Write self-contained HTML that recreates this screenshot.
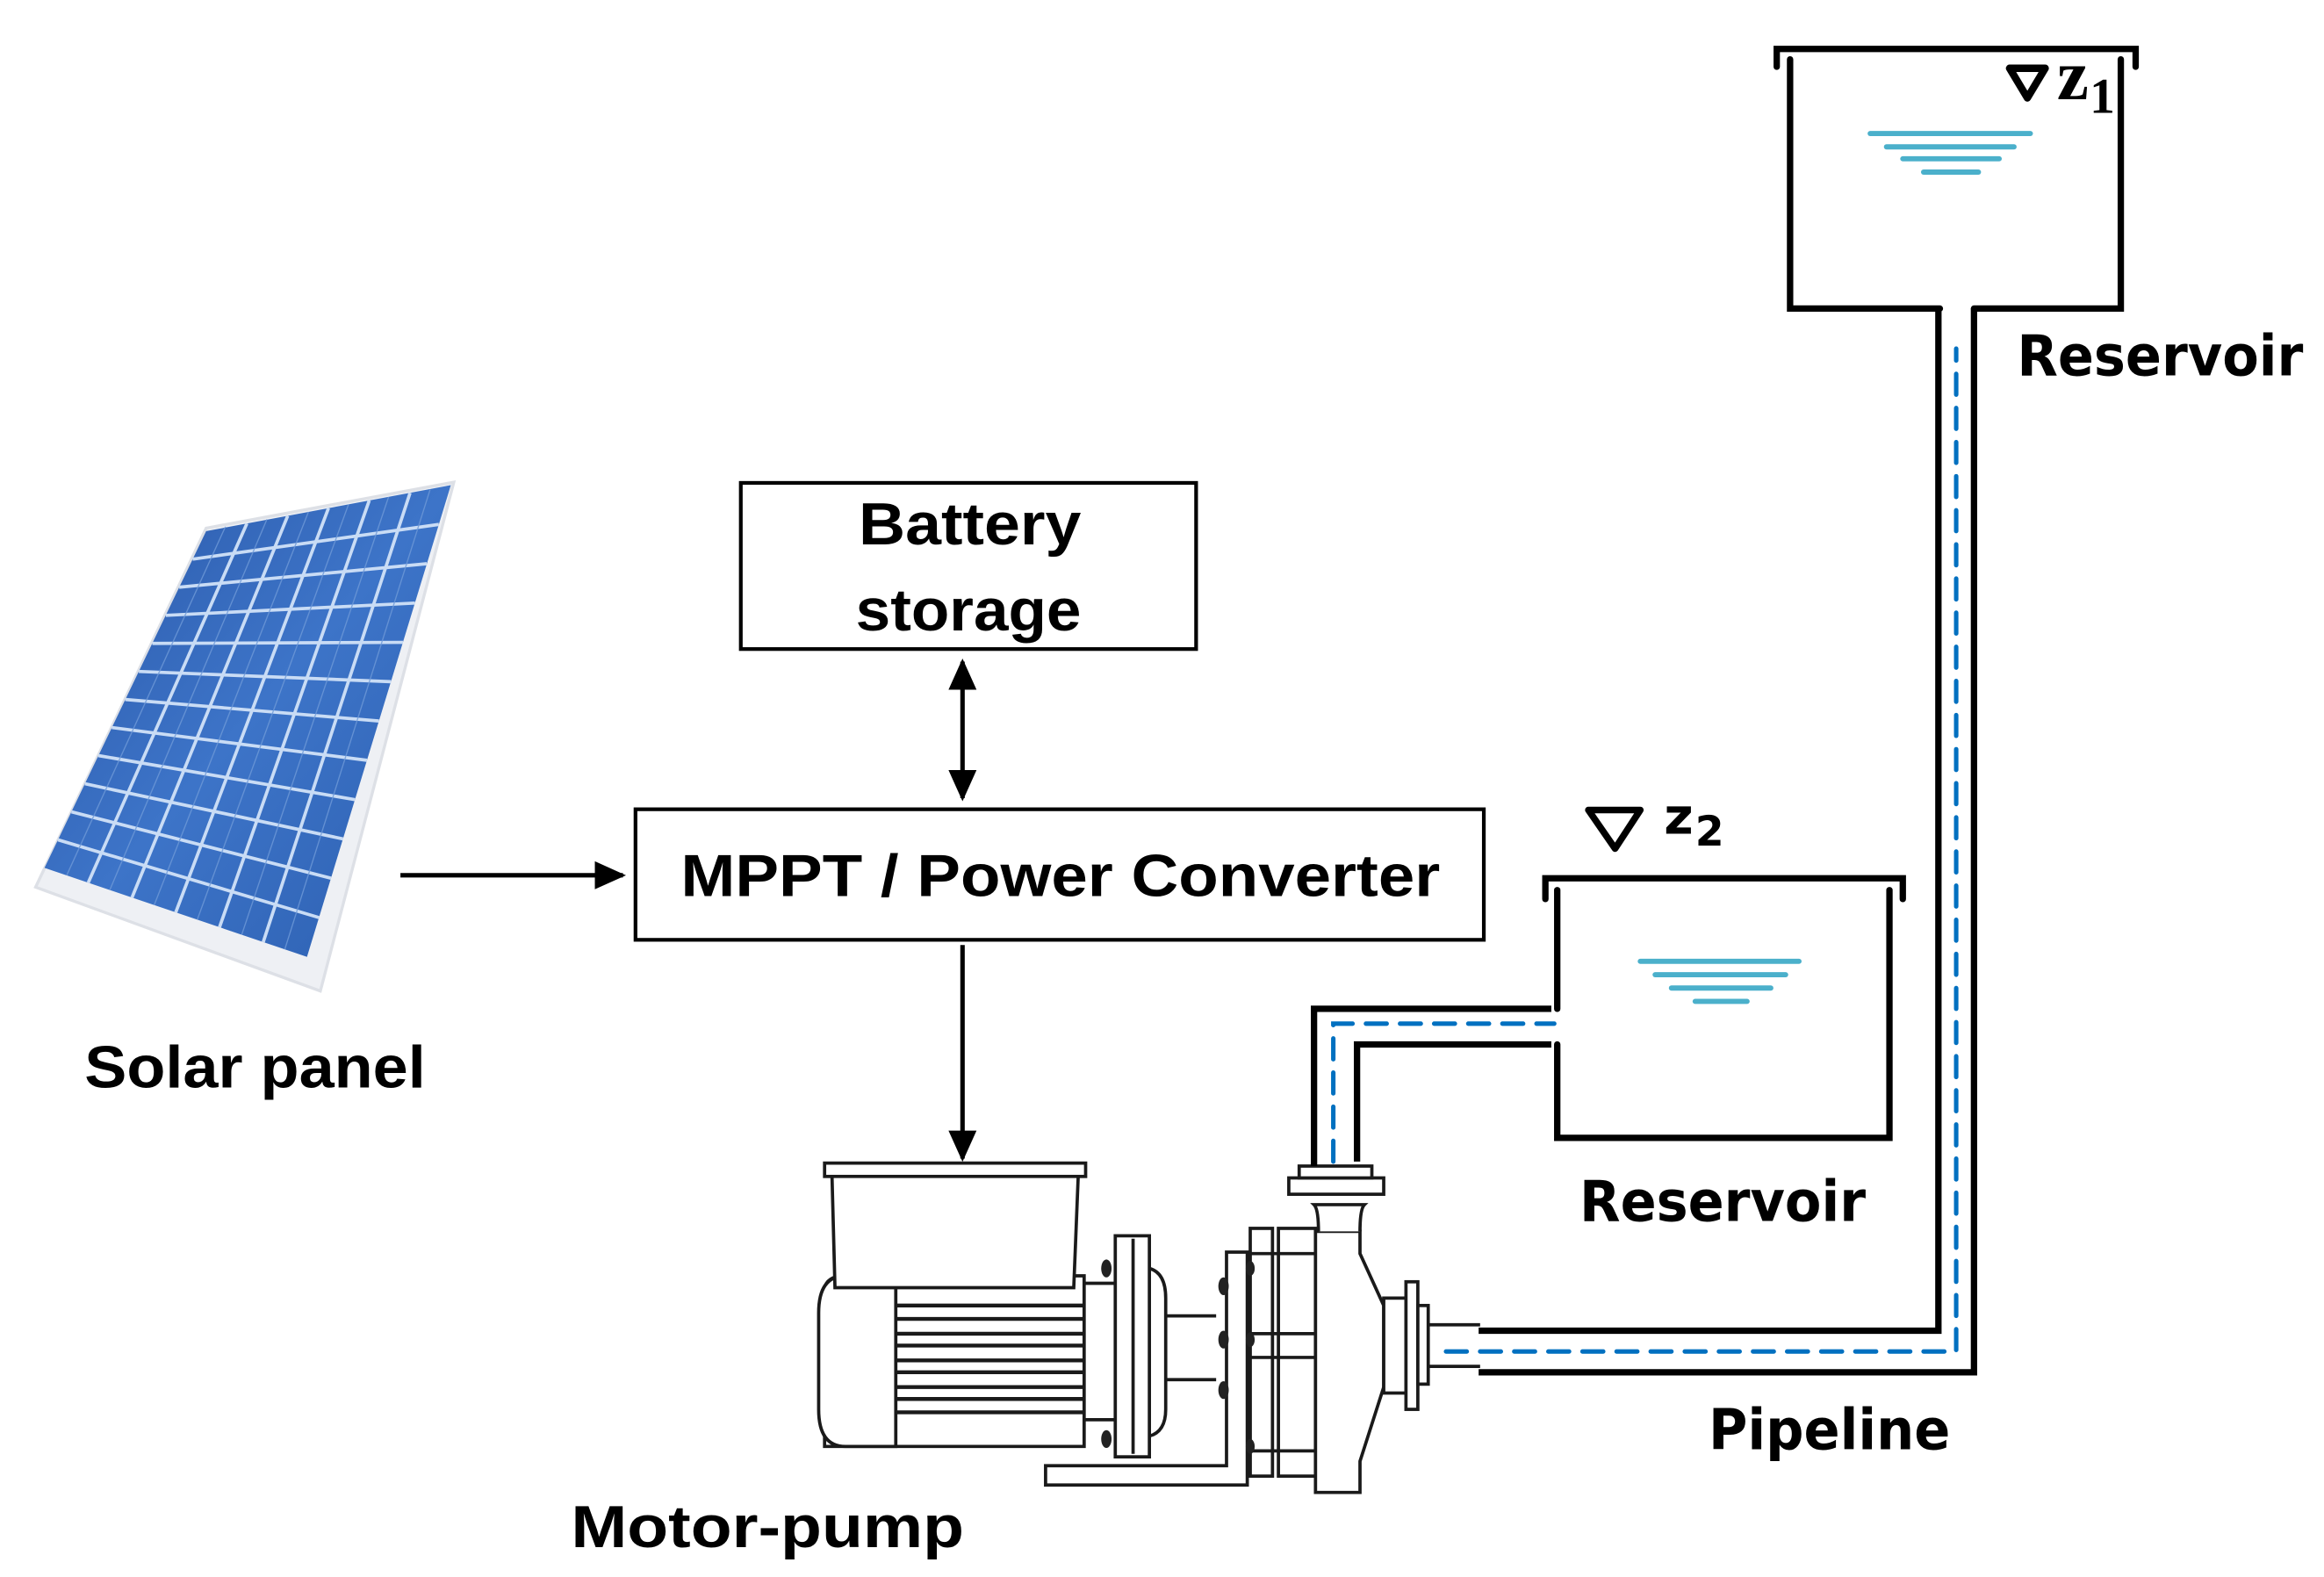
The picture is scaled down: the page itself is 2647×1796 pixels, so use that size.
<!DOCTYPE html>
<html><head><meta charset="utf-8"><style>
html,body{margin:0;padding:0;background:#fff;}
svg{display:block;}
</style></head><body>
<svg width="2647" height="1796" viewBox="0 0 1567 1063" preserveAspectRatio="none" xmlns="http://www.w3.org/2000/svg">
<defs>
<linearGradient id="pg" x1="0" y1="0" x2="1" y2="1">
<stop offset="0" stop-color="#2a58a8"/><stop offset="0.5" stop-color="#3d74c8"/><stop offset="1" stop-color="#2c5fb0"/>
</linearGradient>
<marker id="ah" viewBox="0 0 10 10" refX="9" refY="5" markerWidth="7" markerHeight="7" orient="auto-start-reverse">
<path d="M0,0.5 L10,5 L0,9.5 z" fill="#000"/></marker>
</defs>
<rect width="1567" height="1063" fill="#fff"/>

<!-- Solar panel -->
<polygon points="139,356 306,325 216,668 24,598" fill="#eef0f4" stroke="#dde0e6" stroke-width="2"/>
<polygon points="139,358 304,327 207,645 30,585" fill="url(#pg)"/>
<g stroke="#c9dcf5" stroke-width="2.2">
<line x1="166.5" y1="352.8" x2="59.5" y2="595"/>
<line x1="194" y1="347.7" x2="89" y2="605"/>
<line x1="221.5" y1="342.5" x2="118.5" y2="615"/>
<line x1="249" y1="337.3" x2="148" y2="625"/>
<line x1="276.5" y1="332.2" x2="177.5" y2="635"/>
<line x1="129.9" y1="376.9" x2="295.9" y2="353.5"/>
<line x1="120.8" y1="395.8" x2="287.8" y2="380"/>
<line x1="111.8" y1="414.8" x2="279.8" y2="406.5"/>
<line x1="102.7" y1="433.7" x2="271.7" y2="433"/>
<line x1="93.6" y1="452.6" x2="263.6" y2="459.5"/>
<line x1="84.5" y1="471.5" x2="255.5" y2="486"/>
<line x1="75.4" y1="490.4" x2="247.4" y2="512.5"/>
<line x1="66.3" y1="509.3" x2="239.3" y2="539"/>
<line x1="57.3" y1="528.3" x2="231.3" y2="565.5"/>
<line x1="48.2" y1="547.2" x2="223.2" y2="592"/>
<line x1="39.1" y1="566.1" x2="215.1" y2="618.5"/>
</g>
<g stroke="#6f9ad8" stroke-width="0.8" opacity="0.8">
<line x1="152" y1="355" x2="45" y2="590"/><line x1="180" y1="350" x2="74" y2="600"/>
<line x1="208" y1="345" x2="104" y2="610"/><line x1="235" y1="340" x2="133" y2="620"/>
<line x1="262" y1="335" x2="163" y2="630"/><line x1="290" y1="330" x2="192" y2="640"/>
</g>
<text x="57" y="733" font-family="Liberation Sans, sans-serif" font-weight="bold" font-size="40" textLength="230" lengthAdjust="spacingAndGlyphs">Solar panel</text>

<!-- arrows -->
<line x1="270" y1="590" x2="420" y2="590" stroke="#000" stroke-width="3" marker-end="url(#ah)"/>
<line x1="649" y1="446" x2="649" y2="538" stroke="#000" stroke-width="3" marker-start="url(#ah)" marker-end="url(#ah)"/>
<line x1="649" y1="637" x2="649" y2="781" stroke="#000" stroke-width="3" marker-end="url(#ah)"/>

<!-- Battery -->
<rect x="499.5" y="325.5" width="307" height="112" fill="#fff" stroke="#000" stroke-width="2.5"/>
<text x="654" y="367" text-anchor="middle" font-family="Liberation Sans, sans-serif" font-weight="bold" font-size="40" textLength="150" lengthAdjust="spacingAndGlyphs">Battery</text>
<text x="653" y="425" text-anchor="middle" font-family="Liberation Sans, sans-serif" font-weight="bold" font-size="40" textLength="152" lengthAdjust="spacingAndGlyphs">storage</text>

<!-- MPPT -->
<rect x="428.5" y="545.5" width="572" height="88" fill="#fff" stroke="#000" stroke-width="2.5"/>
<text x="715" y="604" text-anchor="middle" font-family="Liberation Sans, sans-serif" font-weight="bold" font-size="40" textLength="512" lengthAdjust="spacingAndGlyphs">MPPT / Power Converter</text>

<!-- Motor pump -->
<g fill="#fff" stroke="#1a1a1a" stroke-width="2.2">
<path d="M556,975 L556,870 Q556,862 566,860 L731,860 L731,975 Z" />
<path d="M570,975 Q552,975 552,950 L552,885 Q552,860 570,860 L604,860 L604,975 Z"/>
<rect x="556" y="784" width="176" height="9"/>
<polygon points="561,793 727,793 724,868 563,868"/>
<g stroke-width="2.6">
<line x1="604" y1="880" x2="731" y2="880"/><line x1="604" y1="889" x2="731" y2="889"/>
<line x1="604" y1="899" x2="731" y2="899"/><line x1="604" y1="907" x2="731" y2="907"/>
<line x1="604" y1="917" x2="731" y2="917"/><line x1="604" y1="925" x2="731" y2="925"/>
<line x1="604" y1="935" x2="731" y2="935"/><line x1="604" y1="943" x2="731" y2="943"/>
<line x1="604" y1="952" x2="731" y2="952"/></g>
<line x1="731" y1="865" x2="752" y2="865"/><line x1="731" y1="957" x2="752" y2="957"/>
<path d="M775,855 Q786,858 786,875 L786,950 Q786,965 775,968"/>
<rect x="752" y="833" width="23" height="149"/>
<line x1="764" y1="835" x2="764" y2="980"/>
<line x1="786" y1="887" x2="820" y2="887"/><line x1="786" y1="930" x2="820" y2="930"/>
<path d="M705,988 L827,988 L827,844 L841,844 L841,1001 L705,1001 Z"/>
<rect x="843" y="828" width="15" height="167"/>
<rect x="862" y="828" width="25" height="167"/>
<line x1="843" y1="845" x2="887" y2="845"/><line x1="843" y1="978" x2="887" y2="978"/>
<line x1="843" y1="899" x2="887" y2="899"/><line x1="843" y1="915" x2="887" y2="915"/>
<path d="M887,830 L887,1006 L917,1006 L917,985 L933,935 L933,880 L917,845 L917,830 Z"/>
<path d="M889,830 Q889,815 886,812 L920,812 Q917,815 917,830" />
<rect x="869" y="794" width="64" height="11"/>
<rect x="876" y="786" width="49" height="8"/>
<rect x="933" y="875" width="15" height="64"/>
<rect x="948" y="864" width="8" height="86"/>
<rect x="956" y="880" width="7" height="53"/>
<line x1="963" y1="893" x2="998" y2="893"/><line x1="963" y1="921" x2="998" y2="921"/>
</g>
<g fill="#222"><ellipse cx="746" cy="855" rx="3.5" ry="6"/><ellipse cx="746" cy="970" rx="3.5" ry="6"/>
<ellipse cx="825" cy="867" rx="3.5" ry="6"/><ellipse cx="825" cy="903" rx="3.5" ry="6"/><ellipse cx="825" cy="937" rx="3.5" ry="6"/>
<ellipse cx="843" cy="855" rx="3" ry="5"/><ellipse cx="843" cy="903" rx="3" ry="5"/><ellipse cx="843" cy="975" rx="3" ry="5"/></g>
<text x="385" y="1043" font-family="Liberation Sans, sans-serif" font-weight="bold" font-size="40" textLength="265" lengthAdjust="spacingAndGlyphs">Motor-pump</text>

<!-- Pipes -->
<g fill="none" stroke="#000" stroke-width="4.3">
<polyline points="886,786 886,680 1046,680"/>
<polyline points="915,783 915,704 1046,704"/>
<polyline points="997,897 1307,897 1307,208"/>
<polyline points="997,925 1331,925 1331,208"/>
</g>
<g fill="none" stroke="#0070c0" stroke-width="3" stroke-dasharray="14,9" stroke-linecap="round">
<polyline points="899,783 899,690 1048,690"/>
<polyline points="975,911 1319,911 1319,235"/>
</g>

<!-- Reservoirs -->
<g fill="none" stroke="#000" stroke-width="4.3" stroke-linecap="round">
<polyline points="1198,45 1198,33 1440,33 1440,45"/>
<polyline points="1308,208 1207,208 1207,40"/>
<polyline points="1331,208 1430,208 1430,40"/>
<polyline points="1042,606 1042,592 1283,592 1283,606"/>
<polyline points="1050,600 1050,680"/>
<polyline points="1050,704 1050,767 1274,767 1274,600"/>
</g>
<g stroke="#4bb0cb" stroke-width="3.5" stroke-linecap="round">
<line x1="1261" y1="90" x2="1369" y2="90"/><line x1="1272" y1="99" x2="1358" y2="99"/>
<line x1="1283" y1="107" x2="1348" y2="107"/><line x1="1297" y1="116" x2="1334" y2="116"/>
<line x1="1106" y1="648" x2="1213" y2="648"/><line x1="1116" y1="657" x2="1204" y2="657"/>
<line x1="1127" y1="666" x2="1194" y2="666"/><line x1="1143" y1="675" x2="1178" y2="675"/>
</g>
<polygon points="1355,46 1379,46 1367,66" fill="none" stroke="#000" stroke-width="5" stroke-linejoin="round"/>
<text x="1387" y="67" font-family="Liberation Serif, serif" font-weight="bold" font-size="48">z</text>
<text x="1409" y="76" font-family="Liberation Serif, serif" font-weight="bold" font-size="34">1</text>
<polygon points="1071,546 1106,546 1089,572" fill="none" stroke="#000" stroke-width="4.5" stroke-linejoin="round"/>
<text x="1122" y="562" font-family="DejaVu Sans, sans-serif" font-weight="bold" font-size="34">z</text>
<text x="1143" y="570" font-family="DejaVu Sans, sans-serif" font-weight="bold" font-size="28">2</text>

<g font-family="DejaVu Sans, sans-serif" font-weight="bold" font-size="38">
<text x="1360" y="253" textLength="193" lengthAdjust="spacingAndGlyphs">Reservoir</text>
<text x="1065" y="823" textLength="193" lengthAdjust="spacingAndGlyphs">Reservoir</text>
<text x="1152" y="977" textLength="163" lengthAdjust="spacingAndGlyphs">Pipeline</text>
</g>
</svg>
</body></html>
